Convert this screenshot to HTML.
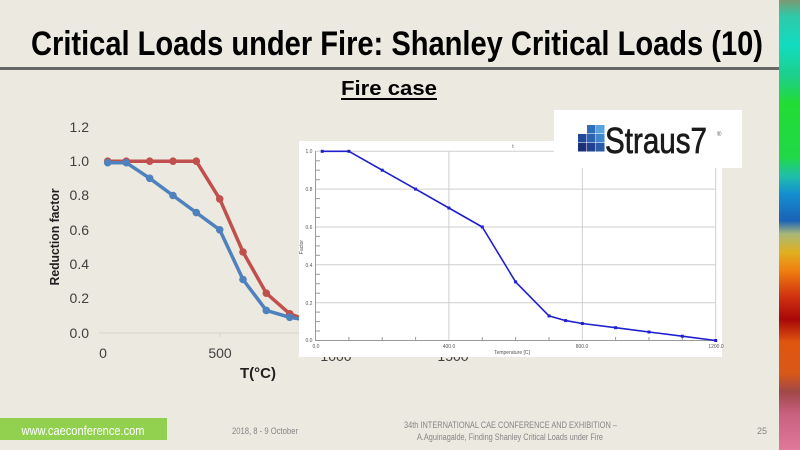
<!DOCTYPE html>
<html>
<head>
<meta charset="utf-8">
<style>
html,body{margin:0;padding:0;background:#ECE9E0;}
svg{display:block;}
</style>
</head>
<body>
<svg width="800" height="450" viewBox="0 0 800 450" xmlns="http://www.w3.org/2000/svg">
<defs>
<linearGradient id="strip" x1="0" y1="0" x2="0" y2="1">
<stop offset="0" stop-color="#7d9a72"/>
<stop offset="0.035" stop-color="#2fc9a8"/>
<stop offset="0.1" stop-color="#12dcc0"/>
<stop offset="0.17" stop-color="#1ccf8a"/>
<stop offset="0.23" stop-color="#22dc35"/>
<stop offset="0.35" stop-color="#20d848"/>
<stop offset="0.39" stop-color="#20c0a8"/>
<stop offset="0.43" stop-color="#1490d0"/>
<stop offset="0.49" stop-color="#1a62b8"/>
<stop offset="0.52" stop-color="#a8b878"/>
<stop offset="0.56" stop-color="#e0b020"/>
<stop offset="0.6" stop-color="#f08010"/>
<stop offset="0.66" stop-color="#d03010"/>
<stop offset="0.71" stop-color="#a80808"/>
<stop offset="0.76" stop-color="#e05510"/>
<stop offset="0.83" stop-color="#d85818"/>
<stop offset="0.87" stop-color="#a04848"/>
<stop offset="0.92" stop-color="#c86080"/>
<stop offset="1" stop-color="#e0789a"/>
</linearGradient>
</defs>

<rect x="0" y="0" width="800" height="450" fill="#ECE9E0"/>
<rect x="779" y="0" width="21" height="450" fill="url(#strip)"/>

<!-- Title -->
<text x="31" y="55" font-family="'Liberation Sans Narrow','Liberation Sans',sans-serif" font-weight="bold" font-size="34" fill="#000" textLength="732" lengthAdjust="spacingAndGlyphs">Critical Loads under Fire: Shanley Critical Loads (10)</text>
<rect x="0" y="67" width="779" height="3" fill="#666"/>

<!-- Fire case -->
<text x="389" y="95" text-anchor="middle" font-family="'Liberation Sans Narrow','Liberation Sans',sans-serif" font-weight="bold" font-size="20" fill="#000" textLength="96" lengthAdjust="spacingAndGlyphs">Fire case</text>
<rect x="341" y="98" width="96" height="2" fill="#000"/>

<!-- Left chart -->
<g font-family="'Liberation Sans',sans-serif" font-size="14" fill="#404040">
<text x="89" y="132" text-anchor="end">1.2</text>
<text x="89" y="166" text-anchor="end">1.0</text>
<text x="89" y="200" text-anchor="end">0.8</text>
<text x="89" y="235" text-anchor="end">0.6</text>
<text x="89" y="269" text-anchor="end">0.4</text>
<text x="89" y="303" text-anchor="end">0.2</text>
<text x="89" y="338" text-anchor="end">0.0</text>
<text x="103" y="358" text-anchor="middle">0</text>
<text x="220" y="358" text-anchor="middle">500</text>
<text x="336" y="361" text-anchor="middle">1000</text>
<text x="453" y="361" text-anchor="middle">1500</text>
</g>
<line x1="99" y1="333" x2="700" y2="333" stroke="#d6d4cc" stroke-width="1"/>
<line x1="220" y1="333" x2="220" y2="337" stroke="#d6d4cc" stroke-width="1"/>
<text transform="translate(59,237) rotate(-90)" text-anchor="middle" font-family="'Liberation Sans',sans-serif" font-weight="bold" font-size="13" fill="#202020" textLength="97" lengthAdjust="spacingAndGlyphs">Reduction factor</text>
<text x="258" y="378" text-anchor="middle" font-family="'Liberation Sans',sans-serif" font-weight="bold" font-size="15" fill="#202020">T(°C)</text>

<polyline fill="none" stroke="#C0504D" stroke-width="3.5" stroke-linejoin="round" points="107.7,161.2 126.3,161.2 149.7,161.2 173,161.2 196.3,161.2 219.7,198.9 243,252 266.3,293.2 289.7,313.8 313,322.4"/>
<g fill="#C0504D">
<circle cx="107.7" cy="161.2" r="3.8"/><circle cx="126.3" cy="161.2" r="3.8"/><circle cx="149.7" cy="161.2" r="3.8"/><circle cx="173" cy="161.2" r="3.8"/><circle cx="196.3" cy="161.2" r="3.8"/><circle cx="219.7" cy="198.9" r="3.8"/><circle cx="243" cy="252" r="3.8"/><circle cx="266.3" cy="293.2" r="3.8"/><circle cx="289.7" cy="313.8" r="3.8"/>
</g>
<polyline fill="none" stroke="#4F81BD" stroke-width="3.5" stroke-linejoin="round" points="107.7,162.7 126.3,162.7 149.7,178.3 173,195.5 196.3,212.6 219.7,229.8 243,279.5 266.3,310.4 289.7,317.3 313,321"/>
<g fill="#4F81BD">
<circle cx="107.7" cy="162.7" r="3.8"/><circle cx="126.3" cy="162.7" r="3.8"/><circle cx="149.7" cy="178.3" r="3.8"/><circle cx="173" cy="195.5" r="3.8"/><circle cx="196.3" cy="212.6" r="3.8"/><circle cx="219.7" cy="229.8" r="3.8"/><circle cx="243" cy="279.5" r="3.8"/><circle cx="266.3" cy="310.4" r="3.8"/><circle cx="289.7" cy="317.3" r="3.8"/>
</g>

<!-- Inset Straus7 chart -->
<rect x="299" y="141" width="423" height="216" fill="#fff"/>
<g stroke="#cfcfcf" stroke-width="1">
<line x1="315.5" y1="151.3" x2="716" y2="151.3"/>
<line x1="315.5" y1="189.1" x2="716" y2="189.1"/>
<line x1="315.5" y1="227" x2="716" y2="227"/>
<line x1="315.5" y1="264.8" x2="716" y2="264.8"/>
<line x1="315.5" y1="302.7" x2="716" y2="302.7"/>
<line x1="448.9" y1="151.3" x2="448.9" y2="340.5"/>
<line x1="582.3" y1="151.3" x2="582.3" y2="340.5"/>
<line x1="715.7" y1="151.3" x2="715.7" y2="340.5"/>
</g>
<g stroke="#9a9a9a" stroke-width="1">
<line x1="315.5" y1="151" x2="315.5" y2="341"/>
<line x1="315.5" y1="340.5" x2="716" y2="340.5"/>
<line x1="316" y1="160.8" x2="320" y2="160.8"/><line x1="316" y1="170.2" x2="320" y2="170.2"/><line x1="316" y1="179.7" x2="320" y2="179.7"/>
<line x1="316" y1="198.6" x2="320" y2="198.6"/><line x1="316" y1="208" x2="320" y2="208"/><line x1="316" y1="217.5" x2="320" y2="217.5"/>
<line x1="316" y1="236.4" x2="320" y2="236.4"/><line x1="316" y1="245.9" x2="320" y2="245.9"/><line x1="316" y1="255.3" x2="320" y2="255.3"/>
<line x1="316" y1="274.3" x2="320" y2="274.3"/><line x1="316" y1="283.7" x2="320" y2="283.7"/><line x1="316" y1="293.2" x2="320" y2="293.2"/>
<line x1="316" y1="312.1" x2="320" y2="312.1"/><line x1="316" y1="321.6" x2="320" y2="321.6"/><line x1="316" y1="331" x2="320" y2="331"/>
<line x1="348.9" y1="337" x2="348.9" y2="340.5"/><line x1="382.2" y1="337" x2="382.2" y2="340.5"/><line x1="415.6" y1="337" x2="415.6" y2="340.5"/>
<line x1="482.3" y1="337" x2="482.3" y2="340.5"/><line x1="515.6" y1="337" x2="515.6" y2="340.5"/><line x1="549" y1="337" x2="549" y2="340.5"/>
<line x1="615.6" y1="337" x2="615.6" y2="340.5"/><line x1="649" y1="337" x2="649" y2="340.5"/><line x1="682.3" y1="337" x2="682.3" y2="340.5"/>
</g>
<g font-family="'Liberation Sans',sans-serif" font-size="5" fill="#555">
<text x="309" y="153" text-anchor="middle">1.0</text>
<text x="309" y="191" text-anchor="middle">0.8</text>
<text x="309" y="229" text-anchor="middle">0.6</text>
<text x="309" y="267" text-anchor="middle">0.4</text>
<text x="309" y="305" text-anchor="middle">0.2</text>
<text x="309" y="342" text-anchor="middle">0.0</text>
<text x="316" y="348" text-anchor="middle">0.0</text>
<text x="449" y="348" text-anchor="middle">400.0</text>
<text x="582" y="348" text-anchor="middle">800.0</text>
<text x="716" y="348" text-anchor="middle">1200.0</text>
<text x="512" y="354" text-anchor="middle">Temperature [C]</text>
<text x="513" y="148" text-anchor="middle">t</text>
<text transform="translate(303,247) rotate(-90)" text-anchor="middle">Factor</text>
</g>
<polyline fill="none" stroke="#1f1fd0" stroke-width="1.6" stroke-linejoin="round" points="322.2,151.3 348.9,151.3 382.2,170.2 415.6,189.1 448.9,208 482.3,227 515.6,281.9 549,315.9 565.6,320.6 582.3,323.5 615.6,327.7 649,332 682.3,336.2 715.7,340.5"/>
<g fill="#1f1fd0">
<rect x="320.7" y="149.8" width="3" height="3"/><rect x="347.4" y="149.8" width="3" height="3"/><rect x="380.7" y="168.7" width="3" height="3"/><rect x="414.1" y="187.6" width="3" height="3"/><rect x="447.4" y="206.5" width="3" height="3"/><rect x="480.8" y="225.5" width="3" height="3"/><rect x="514.1" y="280.4" width="3" height="3"/><rect x="547.5" y="314.4" width="3" height="3"/><rect x="564.1" y="319.1" width="3" height="3"/><rect x="580.8" y="322" width="3" height="3"/><rect x="614.1" y="326.2" width="3" height="3"/><rect x="647.5" y="330.5" width="3" height="3"/><rect x="680.8" y="334.7" width="3" height="3"/><rect x="714.2" y="339" width="3" height="3"/>
</g>

<!-- Straus7 logo -->
<rect x="554" y="110" width="188" height="58" fill="#fff"/>
<g>
<rect x="587" y="125" width="8.5" height="8.5" fill="#2f6fb8"/>
<rect x="596" y="125" width="8.5" height="8.5" fill="#5aa2dc"/>
<rect x="578" y="134" width="8.5" height="8.5" fill="#23489a"/>
<rect x="587" y="134" width="8.5" height="8.5" fill="#2d62b0"/>
<rect x="596" y="134" width="8.5" height="8.5" fill="#3f86cc"/>
<rect x="578" y="143" width="8.5" height="8.5" fill="#1c2f78"/>
<rect x="587" y="143" width="8.5" height="8.5" fill="#21418f"/>
<rect x="596" y="143" width="8.5" height="8.5" fill="#2a5aa8"/>
</g>
<text x="605" y="153" font-family="'Liberation Sans Narrow','Liberation Sans',sans-serif" font-size="36" fill="#1a1a1a" stroke="#1a1a1a" stroke-width="0.7" textLength="102" lengthAdjust="spacingAndGlyphs">Straus7</text>
<text x="717" y="136" font-family="'Liberation Sans',sans-serif" font-size="6" fill="#555">®</text>

<!-- Footer -->
<rect x="0" y="418" width="167" height="22" fill="#92D050"/>
<text x="83" y="435" text-anchor="middle" font-family="'Liberation Sans Narrow','Liberation Sans',sans-serif" font-size="13" fill="#fff" textLength="123" lengthAdjust="spacingAndGlyphs">www.caeconference.com</text>
<g font-family="'Liberation Sans Narrow','Liberation Sans',sans-serif" font-size="9" fill="#858585">
<text x="232" y="434" textLength="66" lengthAdjust="spacingAndGlyphs">2018, 8 - 9 October</text>
<text x="404" y="428" textLength="213" lengthAdjust="spacingAndGlyphs">34th INTERNATIONAL CAE CONFERENCE AND EXHIBITION –</text>
<text x="417" y="440" textLength="186" lengthAdjust="spacingAndGlyphs">A.Aguinagalde, Finding Shanley Critical Loads under Fire</text>
<text x="757" y="434">25</text>
</g>
</svg>
</body>
</html>
